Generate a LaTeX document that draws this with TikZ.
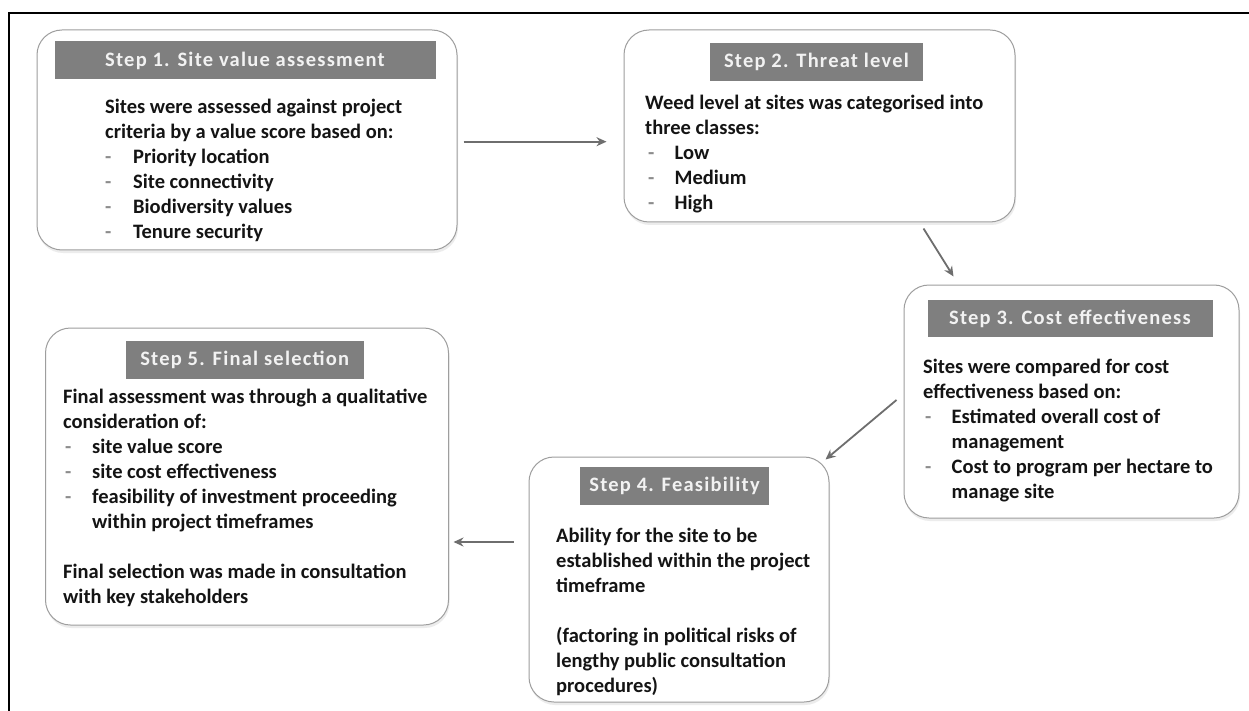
\documentclass[tikz,border=0pt]{standalone}
\usepackage{fontspec}
\setmainfont{Carlito}
\usetikzlibrary{arrows.meta,calc,shadows}
\definecolor{barfill}{HTML}{7F7F7F}
\definecolor{boxline}{HTML}{9E9E9E}
\definecolor{arrowc}{HTML}{6E6E6E}
\definecolor{txt}{HTML}{141414}
\definecolor{dashc}{HTML}{8C8C8C}
\definecolor{bartext}{HTML}{F2F2F2}
\newcommand{\dashitem}[2]{\hspace*{#1}\makebox[#2][l]{\textcolor{dashc}{-}}}
\begin{document}
\begin{tikzpicture}[x=1pt,y=-1pt,
  stepbox/.style={draw=boxline, line width=1pt, rounded corners=25pt, fill=white,
    drop shadow={opacity=0.15, shadow xshift=1pt, shadow yshift=-3pt}, inner sep=0},
  stepbar/.style={fill=barfill, text=bartext, inner sep=0,
    font=\bfseries\fontsize{20.5}{24}\selectfont\addfontfeature{LetterSpace=6}},
  body/.style={anchor=north west, inner sep=0, align=left, text=txt,
    font=\bfseries\fontsize{20.5}{25}\selectfont},
  arr/.style={draw=arrowc, line width=1.8pt, -{Stealth[length=10pt,width=9pt]}}
]
\useasboundingbox (0,0) rectangle (1249,711);
\fill[white] (0,0) rectangle (1249,711);
% frame
\draw[black, line width=2pt] (9,711) -- (9,13) -- (1249,13);

% boxes
\node[stepbox, minimum width=420pt, minimum height=220pt] (b1) at (247,140) {};
\node[stepbox, minimum width=391pt, minimum height=192pt] (b2) at (819.5,126) {};
\node[stepbox, minimum width=335pt, minimum height=233pt] (b3) at (1071.5,401.5) {};
\node[stepbox, minimum width=300pt, minimum height=245pt] (b4) at (679,579.5) {};
\node[stepbox, minimum width=403pt, minimum height=297pt] (b5) at (247,476.5) {};

% title bars
\node[stepbar, minimum width=381pt, minimum height=38pt] (h1) at (245,60.5) {Step 1. Site value assessment};
\node[stepbar, minimum width=213pt, minimum height=38pt] (h2) at (816.5,62) {Step 2. Threat level};
\node[stepbar, minimum width=285pt, minimum height=37pt] (h3) at (1070,318.5) {Step 3. Cost effectiveness};
\node[stepbar, minimum width=189pt, minimum height=38pt] (h4) at (674.5,486) {Step 4. Feasibility};
\node[stepbar, minimum width=238pt, minimum height=38pt] (h5) at (244.7,359.5) {Step 5. Final selection};

% bodies
\node[body] (t1) at (105,99) {Sites were assessed against project\\
criteria by a value score based on:\\
\dashitem{0pt}{28pt}Priority location\\
\dashitem{0pt}{28pt}Site connectivity\\
\dashitem{0pt}{28pt}Biodiversity values\\
\dashitem{0pt}{28pt}Tenure security};

\node[body] (t2) at (645,95) {Weed level at sites was categorised into\\
three classes:\\
\dashitem{3pt}{26.5pt}Low\\
\dashitem{3pt}{26.5pt}Medium\\
\dashitem{3pt}{26.5pt}High};

\node[body] (t3) at (923,359) {Sites were compared for cost\\
effectiveness based on:\\
\dashitem{2pt}{26.5pt}Estimated overall cost of\\
\hspace*{28.5pt}management\\
\dashitem{2pt}{26.5pt}Cost to program per hectare to\\
\hspace*{28.5pt}manage site};

\node[body] (t4) at (556,528) {Ability for the site to be\\
established within the project\\
timeframe\\[25pt]
(factoring in political risks of\\
lengthy public consultation\\
procedures)};

\node[body] (t5) at (63,389) {Final assessment was through a qualitative\\
consideration of:\\
\dashitem{2pt}{27pt}site value score\\
\dashitem{2pt}{27pt}site cost effectiveness\\
\dashitem{2pt}{27pt}feasibility of investment proceeding\\
\hspace*{29pt}within project timeframes\\[25pt]
Final selection was made in consultation\\
with key stakeholders};

% connectors
\draw[arr] ($(b1.east)+(6,1.7)$) -- ($(b2.west)+(-17,15.7)$);
\draw[arr] ($(b2.south east)+(-92,6)$) -- ($(b3.north west)+(50,-8)$);
\draw[arr] ($(b3.west)+(-7,-1.5)$) -- ($(b4.north east)+(-4,3)$);
\draw[arr] ($(b4.west)+(-15,-37.5)$) -- ($(b5.east)+(4.5,65.5)$);
\end{tikzpicture}
\end{document}
